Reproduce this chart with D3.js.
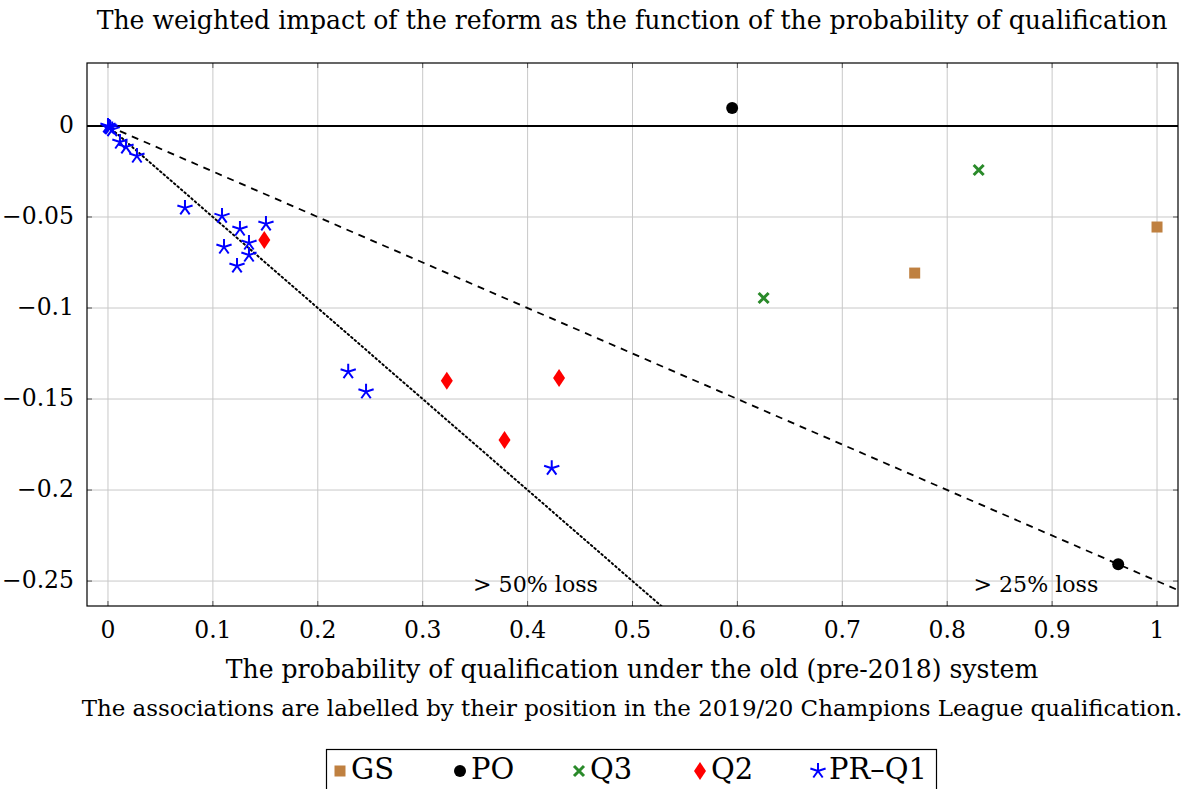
<!DOCTYPE html>
<html><head><meta charset="utf-8">
<script src="https://cdn.jsdelivr.net/npm/d3@7"></script>
<style>body{margin:0;background:#fff}svg{display:block}text{font-family:"DejaVu Serif",serif;fill:#000}</style>
</head><body><svg id="c" width="1192" height="789"></svg>
<script>
const xTicks = [0,0.1,0.2,0.3,0.4,0.5,0.6,0.7,0.8,0.9,1];
const yTicks = [0,-0.05,-0.1,-0.15,-0.2,-0.25];
const gsData = [[1.0,-0.0555],[0.769,-0.0808]];
const poData = [[0.595,0.0099],[0.963,-0.2407]];
const q3Data = [[0.830,-0.0242],[0.625,-0.0945]];
const q2Data = [[0.149,-0.0626],[0.323,-0.140],[0.378,-0.1725],[0.430,-0.1385]];
const prq1Data = [[0,0],[0.001,-0.0005],[0.002,-0.001],[0.004,-0.002],[0.0114,-0.0088],[0.0172,-0.0115],[0.0276,-0.0165],
  [0.0734,-0.045],[0.1087,-0.0495],[0.1258,-0.0566],[0.1506,-0.0538],[0.1106,-0.0665],[0.1344,-0.0643],[0.1344,-0.0709],[0.123,-0.0769],
  [0.229,-0.135],[0.246,-0.146],[0.423,-0.188]];
const lossLines = [{slope:-0.25,dash:"7,6",label:"> 25% loss",lx:0.825},{slope:-0.5,dash:"1.6,3",label:"> 50% loss",lx:0.348}];
const legendItems = ["GS","PO","Q3","Q2","PR–Q1"];

const svg = d3.select("#c");
const L=87,R=1178,T=63,B=606;
const x = d3.scaleLinear().domain([-0.02,1.02]).range([L,R]);
const y = d3.scaleLinear().domain([-0.2637,0.0346]).range([B,T]);

function fitSize(str, target){
  const t = svg.append("text").attr("font-size",20).text(str);
  const w = t.node().getComputedTextLength(); t.remove();
  return 20*target/w;
}
const tickFs = fitSize("\u22120.25",72);
const annFs = fitSize("> 50% loss",125);
const legFs = fitSize("PR–Q1",98);

svg.append("defs").append("clipPath").attr("id","clip").append("rect").attr("x",L).attr("y",T).attr("width",R-L).attr("height",B-T);

// grid
const g = svg.append("g");
g.selectAll(".gx").data(xTicks).join("line").attr("x1",d=>x(d)).attr("x2",d=>x(d)).attr("y1",T).attr("y2",B).attr("stroke","#c8c8c8").attr("stroke-width",1);
g.selectAll(".gy").data(yTicks).join("line").attr("y1",d=>y(d)).attr("y2",d=>y(d)).attr("x1",L).attr("x2",R).attr("stroke","#c8c8c8").attr("stroke-width",1);

// tick marks
const tk = svg.append("g").attr("stroke","#555").attr("stroke-width",1);
xTicks.forEach(t=>{tk.append("line").attr("x1",x(t)).attr("x2",x(t)).attr("y1",B).attr("y2",B-5);tk.append("line").attr("x1",x(t)).attr("x2",x(t)).attr("y1",T).attr("y2",T+5);});
yTicks.forEach(t=>{tk.append("line").attr("y1",y(t)).attr("y2",y(t)).attr("x1",L).attr("x2",L+5);tk.append("line").attr("y1",y(t)).attr("y2",y(t)).attr("x1",R).attr("x2",R-5);});

// tick labels
svg.append("g").selectAll("text").data(xTicks).join("text").attr("x",d=>x(d)).attr("y",638).attr("text-anchor","middle").attr("font-size",tickFs).text(d=>d3.format("")(d));
svg.append("g").selectAll("text").data(yTicks).join("text").attr("x",74).attr("y",d=>y(d)+7).attr("text-anchor","end").attr("font-size",tickFs).text(d=>d===0?"0":"\u2212"+d3.format("")(-d));

const plot = svg.append("g").attr("clip-path","url(#clip)");
plot.append("line").attr("x1",L).attr("x2",R).attr("y1",y(0)).attr("y2",y(0)).attr("stroke","#000").attr("stroke-width",2);
lossLines.forEach(l=>{
  plot.append("line").attr("x1",x(0)).attr("y1",y(0)).attr("x2",x(1.02)).attr("y2",y(1.02*l.slope))
   .attr("stroke","#000").attr("stroke-width",l.slope===-0.5?2:1.8).attr("stroke-dasharray",l.dash).attr("stroke-linecap",l.slope===-0.5?"round":"butt");
});
lossLines.forEach(l=>{
  svg.append("text").attr("x",x(l.lx)).attr("y",592).attr("font-size",annFs).text(l.label);
});

function square(sel,s){sel.append("rect").attr("x",-s/2).attr("y",-s/2).attr("width",s).attr("height",s).attr("fill","#bf8040");}
function circle(sel,r){sel.append("circle").attr("r",r).attr("fill","#000");}
function cross(sel,s){sel.append("path").attr("d",`M${-s},${-s}L${s},${s}M${-s},${s}L${s},${-s}`).attr("stroke","#2a8a2a").attr("stroke-width",3);}
function diamond(sel,w,h){sel.append("path").attr("d",`M0,${-h}L${w},0L0,${h}L${-w},0Z`).attr("fill","#f00");}
function star(sel,r){let d="";for(let i=0;i<5;i++){const a=-Math.PI/2+i*2*Math.PI/5;d+=`M0,0L${r*Math.cos(a)},${r*Math.sin(a)}`;}sel.append("path").attr("d",d).attr("stroke","#00f").attr("stroke-width",2).attr("fill","none");}

function draw(data,fn){plot.append("g").selectAll("g").data(data).join("g").attr("transform",d=>`translate(${x(d[0])},${y(d[1])})`).each(function(){fn(d3.select(this));});}
draw(gsData,s=>square(s,11));
draw(poData,s=>circle(s,6));
draw(q3Data,s=>cross(s,5));
draw(q2Data,s=>diamond(s,6,9));
draw(prq1Data,s=>star(s,8));

svg.append("rect").attr("x",L).attr("y",T).attr("width",R-L).attr("height",B-T).attr("fill","none").attr("stroke","#000").attr("stroke-width",1.2);

const titleStr="The weighted impact of the reform as the function of the probability of qualification";
const xlabStr="The probability of qualification under the old (pre-2018) system";
const capStr="The associations are labelled by their position in the 2019/20 Champions League qualification.";
svg.append("text").attr("x",632).attr("y",29).attr("text-anchor","middle").attr("font-size",fitSize(titleStr,1071)).text(titleStr);
svg.append("text").attr("x",632).attr("y",678).attr("text-anchor","middle").attr("font-size",fitSize(xlabStr,813)).text(xlabStr);
svg.append("text").attr("x",632).attr("y",716).attr("text-anchor","middle").attr("font-size",fitSize(capStr,1101)).text(capStr);

const lg = svg.append("g");
lg.append("rect").attr("x",326.5).attr("y",749.5).attr("width",610).attr("height",50).attr("fill","#fff").attr("stroke","#000").attr("stroke-width",1.2);
const lx=[340,460,579,700,818];
const fns=[s=>square(s,11),s=>circle(s,6),s=>cross(s,5),s=>diamond(s,6,9),s=>star(s,8)];
legendItems.forEach((name,i)=>{
  const gg=lg.append("g").attr("transform",`translate(${lx[i]},${771})`);fns[i](gg);
  lg.append("text").attr("x",lx[i]+11).attr("y",779).attr("font-size",legFs).text(name);
});
</script></body></html>
